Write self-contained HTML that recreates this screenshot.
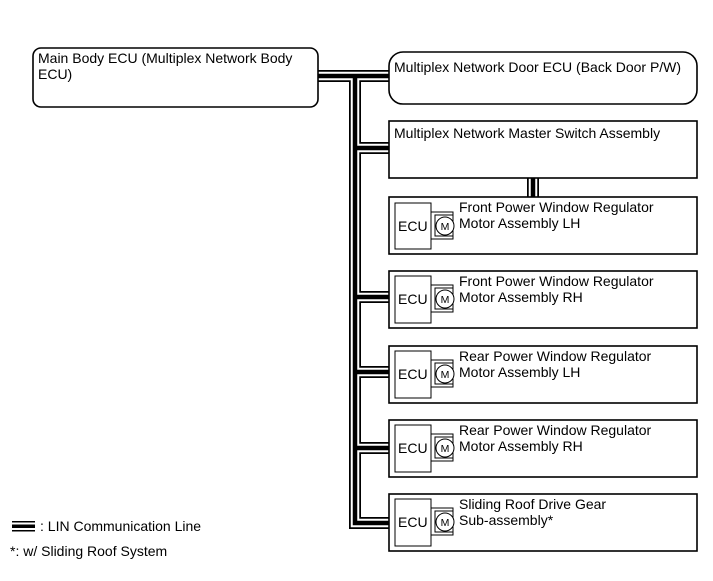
<!DOCTYPE html>
<html><head><meta charset="utf-8"><style>
html,body{margin:0;padding:0;background:#fff;}
svg{display:block;font-family:"Liberation Sans",Arial,sans-serif;}
</style></head><body>
<svg width="713" height="581" viewBox="0 0 713 581" xmlns="http://www.w3.org/2000/svg">
<g fill="none" stroke-linejoin="miter" stroke-linecap="butt">
  <path d="M318 76 H389 M355 76 V523 H389 M355 148 H389 M355 297 H389 M355 372 H389 M355 448 H389 M533 178 V197" stroke="#000" stroke-width="12"/>
  <path d="M318 76 H389 M355 76 V523 H389 M355 148 H389 M355 297 H389 M355 372 H389 M355 448 H389 M533 178 V197" stroke="#fff" stroke-width="8.5"/>
  <path d="M318 76 H389 M355 76 V523 H389 M355 148 H389 M355 297 H389 M355 372 H389 M355 448 H389 M533 178 V197" stroke="#000" stroke-width="4.5"/>
</g>
<g fill="#fff" stroke="#000" stroke-width="1.6">
  <rect x="33" y="48" width="285" height="59" rx="8"/>
  <rect x="389" y="52" width="308" height="52" rx="14"/>
  <rect x="389" y="121" width="308" height="57"/>
  <rect x="389" y="197" width="308" height="57"/>
  <rect x="389" y="271" width="308" height="57"/>
  <rect x="389" y="346" width="308" height="57"/>
  <rect x="389" y="420" width="308" height="57"/>
  <rect x="389" y="494" width="308" height="57"/>
</g>
<g font-size="14" fill="#000">
  <text x="38" y="63">Main Body ECU (Multiplex Network Body</text>
  <text x="38" y="79">ECU)</text>
  <text x="394" y="72">Multiplex Network Door ECU (Back Door P/W)</text>
  <text x="394" y="138">Multiplex Network Master Switch Assembly</text>
</g>
<g stroke="#000" stroke-width="1" fill="#fff">
  <rect x="395" y="203" width="36" height="46"/><rect x="431" y="212" width="22" height="27"/><rect x="435" y="215" width="18" height="21"/><circle cx="445" cy="226" r="9"/>
  <rect x="395" y="276" width="36" height="47"/><rect x="431" y="285" width="22" height="27"/><rect x="435" y="288" width="18" height="21"/><circle cx="445" cy="299" r="9"/>
  <rect x="395" y="351" width="36" height="47"/><rect x="431" y="360" width="22" height="27"/><rect x="435" y="363" width="18" height="21"/><circle cx="445" cy="374" r="9"/>
  <rect x="395" y="425" width="36" height="47"/><rect x="431" y="434" width="22" height="27"/><rect x="435" y="437" width="18" height="21"/><circle cx="445" cy="448" r="9"/>
  <rect x="395" y="499" width="36" height="47"/><rect x="431" y="508" width="22" height="27"/><rect x="435" y="511" width="18" height="21"/><circle cx="445" cy="522" r="9"/>
</g>
<g font-size="14" fill="#000">
  <text x="398" y="231">ECU</text><text x="445" y="230" font-size="10.5" text-anchor="middle">M</text>
  <text x="459" y="212">Front Power Window Regulator</text><text x="459" y="228">Motor Assembly LH</text>
  <text x="398" y="304">ECU</text><text x="445" y="303" font-size="10.5" text-anchor="middle">M</text>
  <text x="459" y="286">Front Power Window Regulator</text><text x="459" y="302">Motor Assembly RH</text>
  <text x="398" y="379">ECU</text><text x="445" y="378" font-size="10.5" text-anchor="middle">M</text>
  <text x="459" y="361">Rear Power Window Regulator</text><text x="459" y="377">Motor Assembly LH</text>
  <text x="398" y="453">ECU</text><text x="445" y="452" font-size="10.5" text-anchor="middle">M</text>
  <text x="459" y="435">Rear Power Window Regulator</text><text x="459" y="451">Motor Assembly RH</text>
  <text x="398" y="527">ECU</text><text x="445" y="526" font-size="10.5" text-anchor="middle">M</text>
  <text x="459" y="509">Sliding Roof Drive Gear</text><text x="459" y="525">Sub-assembly*</text>
</g>
<g>
  <rect x="12" y="521" width="23" height="1.5" fill="#000"/>
  <rect x="12" y="524.5" width="23" height="3.5" fill="#000"/>
  <rect x="12" y="530" width="23" height="1.5" fill="#000"/>
  <text x="40" y="531" font-size="14">: LIN Communication Line</text>
  <text x="10" y="556" font-size="14">*: w/ Sliding Roof System</text>
</g>
</svg>
</body></html>
